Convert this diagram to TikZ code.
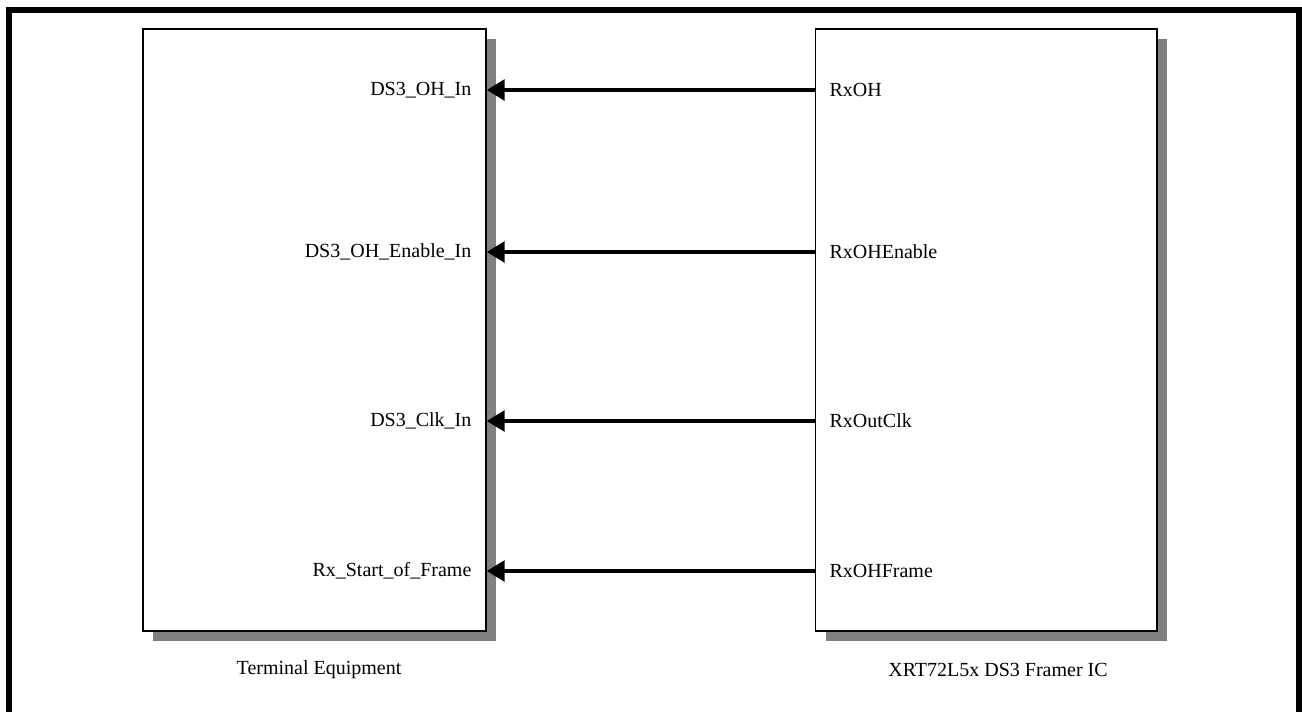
\documentclass[tikz,border=0pt]{standalone}
\usepackage{fontspec}
\setmainfont{Liberation Serif}
\usetikzlibrary{arrows.meta,shadows}
\definecolor{ombra}{HTML}{808080}

\begin{document}
\begin{tikzpicture}[
  x=0.75pt, y=-0.75pt,
  font=\fontsize{15}{18}\selectfont,
  blocco/.style={draw=black, line width=1.1pt, fill=white, inner sep=0pt,
                 drop shadow={shadow xshift=7.5pt, shadow yshift=-7.5pt,
                              fill=ombra, opacity=1}},
  segnale/.style={draw=black, line width=3pt,
                  -{Triangle[length=13.5pt, width=15.5pt]}},
  etichetta/.style={align=center, inner sep=1pt}
]
\useasboundingbox (0,0) rectangle (1302,711);

%--------------------------------------------------------------
% Blocchi: apparato terminale a sinistra, framer a destra
%--------------------------------------------------------------
\node[blocco, minimum width=257.25pt, minimum height=451.5pt]
  (te) at (314.5,330) {};
\node[blocco, minimum width=256.1pt, minimum height=451.5pt]
  (fr) at (986.25,330) {};

%--------------------------------------------------------------
% Piedini dell'apparato terminale
%--------------------------------------------------------------
\node[etichetta, anchor=east] (ohin)  at (473,90)  {DS3\_OH\_In};
\node[etichetta, anchor=east] (ohen)  at (473,252) {DS3\_OH\_Enable\_In};
\node[etichetta, anchor=east] (clkin) at (473,421) {DS3\_Clk\_In};
\node[etichetta, anchor=east] (sof)   at (473,571) {Rx\_Start\_of\_Frame};

%--------------------------------------------------------------
% Piedini del framer
%--------------------------------------------------------------
\node[etichetta, anchor=west] (rxoh)   at (828,90)  {RxOH};
\node[etichetta, anchor=west] (rxohen) at (828,252) {RxOHEnable};
\node[etichetta, anchor=west] (rxclk)  at (828,421) {RxOutClk};
\node[etichetta, anchor=west] (rxfr)   at (828,571) {RxOHFrame};

%--------------------------------------------------------------
% Collegamenti
%--------------------------------------------------------------
\draw[segnale] (fr.west |- rxoh)   -- (te.east |- ohin);
\draw[segnale] (fr.west |- rxohen) -- (te.east |- ohen);
\draw[segnale] (fr.west |- rxclk)  -- (te.east |- clkin);
\draw[segnale] (fr.west |- rxfr)   -- (te.east |- sof);

%--------------------------------------------------------------
% Nomi dei blocchi
%--------------------------------------------------------------
\node[etichetta] (nomete) at (319,670) {Terminal Equipment};
\node[etichetta] (nomefr) at (998,670) {XRT72L5x DS3 Framer IC};

%--------------------------------------------------------------
% Cornice
%--------------------------------------------------------------
\draw[draw=black, line width=4.5pt] (9,10) rectangle (1299,740);

\end{tikzpicture}
\end{document}
